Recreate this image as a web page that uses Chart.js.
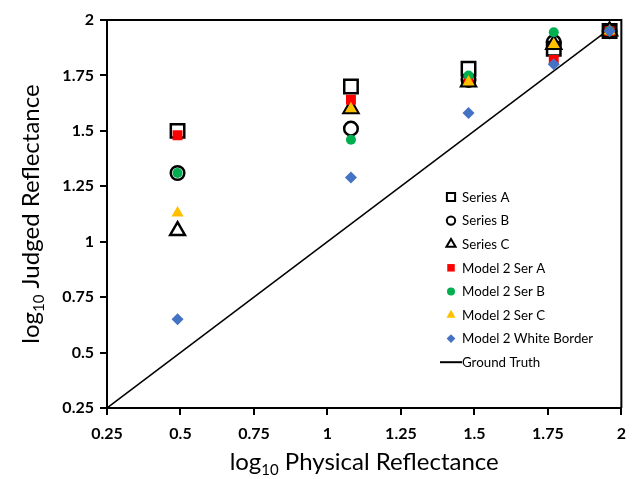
<!DOCTYPE html>
<html><head><meta charset="utf-8">
<script src="https://cdn.jsdelivr.net/npm/chart.js@4/dist/chart.umd.min.js"></script>
<style>html,body{margin:0;padding:0;background:#fff;}#wrap{width:635px;height:479px;}</style>
</head><body><div id="wrap"><canvas id="c" width="635" height="479"></canvas></div>
<script>
const physical = [0.49, 1.08, 1.48, 1.77, 1.96];
const seriesA = [1.50, 1.70, 1.78, 1.87, 1.95];
const seriesB = [1.31, 1.51, 1.73, 1.90, 1.95];
const seriesC = [1.05, 1.60, 1.72, 1.89, 1.95];
const model2A = [1.48, 1.64, 1.73, 1.82, 1.95];
const model2B = [1.31, 1.46, 1.75, 1.945, 1.95];
const model2C = [1.13, 1.60, 1.72, 1.89, 1.95];
const model2White = [0.65, 1.29, 1.58, 1.80, 1.95];
const groundTruthX = [0.25, 1.96];
const groundTruthY = [0.25, 1.96];
const tickLabels = ['0.25','0.5','0.75','1','1.25','1.5','1.75','2'];
const seriesNames = ['Series A','Series B','Series C','Model 2 Ser A','Model 2 Ser B','Model 2 Ser C','Model 2 White Border','Ground Truth'];
const xTitle = ['log', '10', ' Physical Reflectance'];
const yTitle = ['log', '10', ' Judged Reflectance'];

const pts = (ys) => physical.map((x, i) => ({x, y: ys[i]}));
const TR = 'rgba(0,0,0,0)';

const styles = [
  {shape:'rect', r:9.5, fill:TR, stroke:'#000', bw:2.5, lr:5.8, lbw:2},
  {shape:'circle', r:6.8, fill:TR, stroke:'#000', bw:2.5, lr:4.2, lbw:2},
  {shape:'triangle', r:8.5, fill:TR, stroke:'#000', bw:2.5, lr:5.3, lbw:2},
  {shape:'rect', r:7, fill:'#FF0000', stroke:'#FF0000', bw:0, lr:5.3, lbw:0},
  {shape:'circle', r:5, fill:'#00B050', stroke:'#00B050', bw:0, lr:4, lbw:0},
  {shape:'triangle', r:7, fill:'#FFC000', stroke:'#FFC000', bw:0, lr:5.3, lbw:0},
  {shape:'rectRot', r:6, fill:'#4472C4', stroke:'#4472C4', bw:0, lr:4.4, lbw:0}
];
const seriesData = [seriesA, seriesB, seriesC, model2A, model2B, model2C, model2White];

const datasets = seriesData.map((d, i) => ({
  label: seriesNames[i],
  data: pts(d),
  pointStyle: styles[i].shape,
  pointRadius: styles[i].r,
  pointHoverRadius: styles[i].r,
  pointBackgroundColor: styles[i].fill,
  pointBorderColor: styles[i].stroke,
  pointBorderWidth: styles[i].bw,
  showLine: false,
  order: 7 - i
}));
datasets.push({
  label: seriesNames[7],
  type: 'line',
  data: groundTruthX.map((x, i) => ({x, y: groundTruthY[i]})),
  borderColor: '#000',
  borderWidth: 1.5,
  pointRadius: 0,
  fill: false,
  order: 9
});

function shapePath(ctx, shape, x, y, r) {
  ctx.beginPath();
  if (shape === 'rect') {
    const s = r * Math.SQRT1_2;
    ctx.rect(x - s, y - s, 2 * s, 2 * s);
  } else if (shape === 'circle') {
    ctx.arc(x, y, r, 0, Math.PI * 2);
  } else if (shape === 'triangle') {
    ctx.moveTo(x, y - r);
    ctx.lineTo(x + r * Math.sin(Math.PI / 3), y + r * 0.5);
    ctx.lineTo(x - r * Math.sin(Math.PI / 3), y + r * 0.5);
    ctx.closePath();
  } else if (shape === 'rectRot') {
    ctx.moveTo(x, y - r); ctx.lineTo(x + r, y); ctx.lineTo(x, y + r); ctx.lineTo(x - r, y);
    ctx.closePath();
  }
}

function measureTitle(ctx, parts, size) {
  const big = size + 'px Lato', small = Math.round(size * 0.62) + 'px Lato';
  ctx.font = big; const w0 = ctx.measureText(parts[0]).width; const w2 = ctx.measureText(parts[2]).width;
  ctx.font = small; const w1 = ctx.measureText(parts[1]).width;
  return {w0, w1, w2, total: w0 + w1 + w2, big, small};
}
function renderTitle(ctx, parts, size, cx, baseline) {
  const m = measureTitle(ctx, parts, size);
  let x = cx - m.total / 2;
  ctx.textAlign = 'left'; ctx.textBaseline = 'alphabetic'; ctx.fillStyle = '#000';
  ctx.font = m.big; ctx.fillText(parts[0], x, baseline); x += m.w0;
  ctx.font = m.small; ctx.fillText(parts[1], x, baseline + size * 0.2); x += m.w1;
  ctx.font = m.big; ctx.fillText(parts[2], x, baseline);
}

const decor = {
  id: 'decor',
  afterDatasetsDraw(chart) {
    const {ctx, chartArea: a} = chart;
    ctx.save();
    ctx.strokeStyle = '#000'; ctx.lineWidth = 2;
    ctx.beginPath();
    ctx.moveTo(a.left, a.top); ctx.lineTo(a.right, a.top); ctx.lineTo(a.right, a.bottom);
    ctx.stroke();
    // legend
    const lx = 451, tx = 462, y0 = 197, step = 23.6;
    ctx.font = '13.3px Lato'; ctx.textBaseline = 'middle'; ctx.textAlign = 'left';
    seriesNames.forEach((name, i) => {
      const y = y0 + i * step;
      if (i < 7) {
        const s = styles[i];
        shapePath(ctx, s.shape, lx, y, s.lr);
        if (s.fill !== TR) { ctx.fillStyle = s.fill; ctx.fill(); }
        if (s.lbw > 0) { ctx.lineWidth = s.lbw; ctx.strokeStyle = s.stroke; ctx.stroke(); }
      } else {
        ctx.beginPath(); ctx.moveTo(440, y); ctx.lineTo(462, y);
        ctx.lineWidth = 2; ctx.strokeStyle = '#000'; ctx.stroke();
      }
      ctx.fillStyle = '#000';
      ctx.fillText(name, tx, y + 0.5);
    });
    // axis titles
    renderTitle(ctx, xTitle, 24, (a.left + a.right) / 2, 470);
    ctx.translate(39, (a.top + a.bottom) / 2);
    ctx.rotate(-Math.PI / 2);
    renderTitle(ctx, yTitle, 24, 0, 0);
    ctx.restore();
  }
};

const tickFont = {family: 'Lato', size: 16, weight: 'bold'};
new Chart(document.getElementById('c'), {
  type: 'scatter',
  data: {datasets},
  options: {
    responsive: false,
    animation: false,
    devicePixelRatio: 1,
    events: [],
    layout: {padding: {top: 20, right: 9, left: 0, bottom: 0}},
    plugins: {legend: {display: false}, tooltip: {enabled: false}},
    scales: {
      x: {
        type: 'linear', min: 0.25, max: 2,
        ticks: {stepSize: 0.25, color: '#000', font: tickFont, padding: 9, maxRotation: 0,
          callback: (v) => tickLabels[Math.round((v - 0.25) / 0.25)]},
        grid: {drawOnChartArea: false, color: '#000', lineWidth: 2, tickLength: 7},
        border: {color: '#000', width: 2},
        afterFit: (s) => { s.height = 71; }
      },
      y: {
        type: 'linear', min: 0.25, max: 2,
        ticks: {stepSize: 0.25, color: '#000', font: tickFont, padding: 6,
          callback: (v) => tickLabels[Math.round((v - 0.25) / 0.25)]},
        grid: {drawOnChartArea: false, color: '#000', lineWidth: 2, tickLength: 7},
        border: {color: '#000', width: 2},
        afterFit: (s) => { s.width = 107; }
      }
    }
  },
  plugins: [decor]
});
</script></body></html>
